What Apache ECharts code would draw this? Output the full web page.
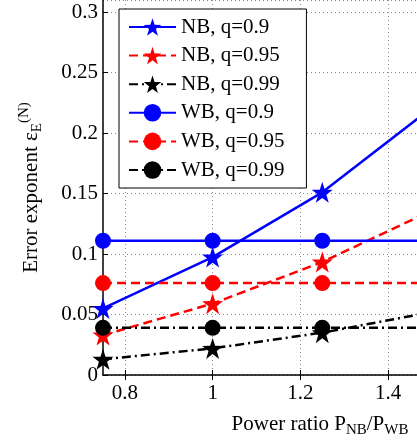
<!DOCTYPE html>
<html>
<head>
<meta charset="utf-8">
<script src="https://cdn.jsdelivr.net/npm/echarts@6/dist/echarts.min.js"></script>
<style>html,body{margin:0;padding:0;background:#fff}#main{width:417px;height:444px}</style>
</head>
<body>
<div id="main"></div>
<script>
// data
var power = [0.75, 1, 1.25, 1.5];
var nb09 = [0.055, 0.0975, 0.151, 0.221];
var nb095 = [0.033, 0.059, 0.0934, 0.136];
var nb099 = [0.013, 0.022, 0.035, 0.052];
var wb09 = [0.111, 0.111, 0.111, 0.111];
var wb095 = [0.076, 0.076, 0.076, 0.076];
var wb099 = [0.039, 0.039, 0.039, 0.039];
var xTicks = [0.8, 1, 1.2, 1.4];

var font = 'Liberation Serif';

// 5 point star marker
function starPath() {
    var p = [];
    for (var i = 0; i < 10; i++) {
        var r = i % 2 ? 19.5 : 50;
        var a = -Math.PI / 2 + i * Math.PI / 5;
        p.push((50 + r * Math.cos(a)).toFixed(2) + ' ' + (50 + r * Math.sin(a)).toFixed(2));
    }
    return 'path://M' + p.join(' L') + ' Z';
}
var star = starPath();

function line(name, vals, color, dash, symbol, size) {
    return {
        name: name,
        type: 'line',
        data: power.map(function (x, i) { return [x, vals[i]]; }),
        symbol: symbol,
        symbolSize: size,
        clip: true,
        lineStyle: { color: color, width: 2.5, type: dash },
        itemStyle: { color: color },
        emphasis: { disabled: true }
    };
}

var dashed = [9, 5];
var dashDot = [9, 4, 2, 4];

var myChart = echarts.init(document.getElementById('main'), null, { renderer: 'canvas' });

var option = {
    animation: false,
    backgroundColor: '#fff',
    grid: { left: 103, right: 0, top: 0, bottom: 69 },
    legend: {
        orient: 'vertical',
        left: 119,
        top: 9,
        itemWidth: 47,
        itemHeight: 22,
        itemGap: 7.6,
        padding: [7.5, 22, 7.5, 9],
        borderColor: '#000',
        borderWidth: 1,
        backgroundColor: '#fff',
        textStyle: { fontFamily: font, fontSize: 21, color: '#000' },
        data: ['NB, q=0.9', 'NB, q=0.95', 'NB, q=0.99', 'WB, q=0.9', 'WB, q=0.95', 'WB, q=0.99']
    },
    xAxis: [{
        type: 'value',
        min: 0.75,
        max: 1.466,
        name: 'Power ratio P{sub|NB}/P{sub|WB}',
        nameLocation: 'middle',
        nameGap: 36,
        nameTextStyle: {
            fontFamily: font, fontSize: 21, color: '#000',
            padding: [0, 0, 0, 120],
            rich: {
                sub: { fontFamily: font, fontSize: 15, color: '#000', verticalAlign: 'bottom', padding: [12, 0, 0, 0] }
            }
        },
        axisLine: { onZero: false, lineStyle: { color: '#000', width: 1.5 } },
        axisTick: { inside: true, length: 5, customValues: xTicks, lineStyle: { color: '#000' } },
        axisLabel: { customValues: xTicks, margin: 8, fontFamily: font, fontSize: 21, color: '#000' },
        splitLine: { show: true, lineStyle: { color: '#888', type: [1, 3], width: 1 } }
    }, {
        type: 'value',
        position: 'top',
        min: 0.75,
        max: 1.466,
        axisLine: { show: false },
        axisTick: { inside: true, length: 5, customValues: xTicks, lineStyle: { color: '#000' } },
        axisLabel: { show: false },
        splitLine: { show: false }
    }],
    yAxis: {
        type: 'value',
        min: 0,
        max: 0.31,
        interval: 0.05,
        name: 'Error exponent ε{sub|E}{sup|(N)}',
        nameLocation: 'middle',
        nameGap: 57,
        nameTextStyle: {
            fontFamily: font, fontSize: 21, color: '#000',
            rich: {
                sub: { fontFamily: font, fontSize: 15, color: '#000', padding: [12, 0, 0, 0] },
                sup: { fontFamily: font, fontSize: 15, color: '#000', padding: [0, 0, 14, 0] }
            }
        },
        axisLine: { onZero: false, lineStyle: { color: '#000', width: 1.5 } },
        axisTick: { inside: true, length: 5, lineStyle: { color: '#000' } },
        axisLabel: { showMaxLabel: false, margin: 5, fontFamily: font, fontSize: 21, color: '#000' },
        splitLine: { show: true, lineStyle: { color: '#888', type: [1, 3], width: 1 } }
    },
    series: [
        line('NB, q=0.9', nb09, '#0000ff', 'solid', star, 21),
        line('NB, q=0.95', nb095, '#ff0000', dashed, star, 21),
        line('NB, q=0.99', nb099, '#000000', dashDot, star, 21),
        line('WB, q=0.9', wb09, '#0000ff', 'solid', 'circle', 16),
        line('WB, q=0.95', wb095, '#ff0000', dashed, 'circle', 16),
        line('WB, q=0.99', wb099, '#000000', dashDot, 'circle', 16)
    ]
};
myChart.setOption(option);
</script>
</body>
</html>
